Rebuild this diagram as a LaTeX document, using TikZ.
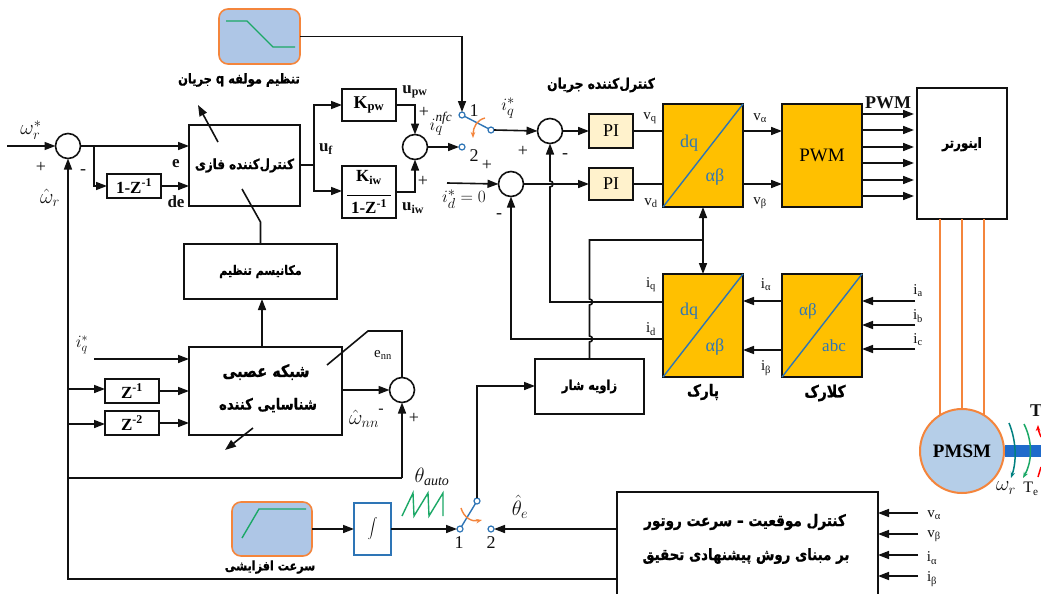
\documentclass[tikz,border=0pt]{standalone}
\usepackage{fontspec}
\usetikzlibrary{arrows.meta}
\setmainfont{Liberation Serif}
\newfontfamily\arabicfont[Script=Arabic,FakeStretch=0.85,BoldFeatures={FakeBold=1}]{DejaVu Sans}
\TeXXeTstate=1
\definecolor{gold}{HTML}{FFC000}
\definecolor{linkblue}{HTML}{2E75B6}
\definecolor{edgeorange}{HTML}{F4853C}
\definecolor{panelblue}{HTML}{AEC6E6}
\definecolor{motorblue}{HTML}{B5CEE8}
\definecolor{cream}{HTML}{FFF2CC}
\definecolor{sawgreen}{HTML}{1BA866}
\definecolor{shaftblue}{HTML}{1F6BCB}
\definecolor{ink}{HTML}{111111}
\newcommand\sz[1]{\fontsize{#1}{#1}\selectfont}
\newcommand\fa[1]{{\arabicfont\bfseries\beginR #1\endR}}
\newcommand\blk[7]{%
  \pgfmathsetmacro\bw{#4-#2}\pgfmathsetmacro\bh{#5-#3}%
  \pgfmathsetmacro\bx{(#2+#4)/2}\pgfmathsetmacro\by{(#3+#5)/2}%
  \node[box,#6,minimum width=\bw pt,minimum height=\bh pt] (#1) at (\bx,\by) {#7};}
\tikzset{
  box/.style={draw=ink,line width=1.6pt,fill=white,inner sep=0pt,outer sep=0pt,align=center},
  goldbox/.style={fill=gold},
  panel/.style={draw=edgeorange,fill=panelblue,line width=1.6pt,rounded corners=9pt},
  sumnode/.style={circle,draw=ink,line width=1.6pt,fill=white,minimum size=25pt,inner sep=0pt,outer sep=0pt},
  wire/.style={draw=ink,line width=1.6pt},
  arr/.style={wire,-{Triangle[length=11pt,width=8pt]}},
  arrboth/.style={wire,{Triangle[length=11pt,width=8pt]}-{Triangle[length=11pt,width=8pt]}},
  diag/.style={draw=linkblue,line width=1.4pt},
  contact/.style={circle,draw=linkblue,fill=white,line width=1.2pt,minimum size=6pt,inner sep=0pt,outer sep=0pt},
  lbl/.style={inner sep=0pt,text=ink,font=\sz{15}},
  blabel/.style={inner sep=0pt,text=ink,font=\sz{17}\bfseries},
  falabel/.style={inner sep=0pt,text=black,font=\sz{14},align=center},
  inlink/.style={inner sep=0pt,text=linkblue,font=\sz{18}},
  orangeline/.style={draw=edgeorange,line width=2pt},
  greenline/.style={draw=sawgreen,line width=1.4pt},
}
\begin{document}
\begin{tikzpicture}[x=1pt,y=-1pt]
\useasboundingbox (0,0) rectangle (1041,594);
\clip (0,0) rectangle (1041,594);
\fill[white] (0,0) rectangle (1041,594);

% ---------- blocks
\blk{gainq}{219}{9}{300}{64}{panel}{}
\blk{fuzzy}{189}{125}{300}{206}{}{\fa{\sz{14}کنترل‌کننده فازی}}
\blk{dz}{107}{174}{161}{198}{font=\sz{17}\bfseries}{1-Z\textsuperscript{-1}}
\blk{mech}{184}{244}{337}{299}{}{\fa{\sz{13}مکانیسم تنظیم}}
\blk{nn}{189}{347}{342}{435}{}{}
\blk{zone}{105}{379}{159}{403}{font=\sz{17}\bfseries}{Z\textsuperscript{-1}}
\blk{ztwo}{105}{411}{159}{435}{font=\sz{17}\bfseries}{Z\textsuperscript{-2}}
\blk{kpw}{342}{89}{396}{121}{font=\sz{18}\bfseries}{K\textsubscript{pw}}
\blk{kiw}{342}{166}{396}{218}{font=\sz{17}\bfseries}{K\textsubscript{iw}\\[-3pt]\rule{44pt}{0.9pt}\\[1pt]1-Z\textsuperscript{-1}}
\blk{pione}{589}{114}{633}{148}{fill=cream,font=\sz{18}}{PI}
\blk{pitwo}{589}{168}{633}{200}{fill=cream,font=\sz{18}}{PI}
\blk{dqtop}{663}{104}{743}{207}{goldbox}{}
\blk{pwm}{782}{104}{862}{207}{goldbox,font=\sz{19}}{PWM}
\blk{inv}{917}{88}{1007}{219}{}{\raisebox{22pt}{\fa{\sz{14}اینورتر}}}
\blk{park}{663}{274}{743}{377}{goldbox}{}
\blk{clarke}{782}{274}{862}{377}{goldbox}{}
\blk{angle}{535}{359}{644}{414}{}{\fa{\sz{13.5}زاویه شار}}
\blk{ramp}{232}{502}{312}{556}{panel}{}
\blk{integ}{354}{503}{391}{555}{draw=linkblue,font=\sz{17}}{$\displaystyle\int$}
\blk{pos}{617}{492}{878}{600}{}{}

\node[sumnode] (sumA) at (68,146) {};
\node[sumnode] (sumB) at (415,147) {};
\node[sumnode] (sumC) at (550,131) {};
\node[sumnode] (sumD) at (511,184) {};
\node[sumnode] (sumE) at (402,390) {};

\node[contact] (swa) at (462,115) {};
\node[contact] (swb) at (462,147) {};
\node[contact] (swc) at (491,130) {};
\node[contact] (swd) at (460,529) {};
\node[contact] (swe) at (491,529) {};
\node[contact] (swf) at (477,501) {};

% ---------- free ends and corners
\coordinate (inW) at (7,146);
\coordinate (brE) at (94,146);
\coordinate (brD) at (94,186);
\coordinate (iqn) at (94,359);
\coordinate (fbL) at (68,579);
\coordinate (fbA) at (68,478);
\coordinate (fbB) at (402,478);
\coordinate (fzC) at (314,165);
\coordinate (idn) at (447,183);

% ---------- speed loop
\draw[arr] (inW) -- (sumA.west);
\draw[arr] (sumA.east) -- (fuzzy.west |- sumA.east);
\draw[arr] (brE) -- (brD) -- (dz.west);
\draw[arr] (dz.east) -- (fuzzy.west |- dz.east);
\draw[arr] (pos.west |- fbL) -- (fbL) -- (sumA.south);
\draw[wire] (fbA) -- (fbB);
\draw[arr] (fbB) -- (sumE.south);
\draw[arr] (68,389) -- (zone.west |- 68,389);
\draw[arr] (68,424) -- (ztwo.west |- 68,424);
\draw[arr] (zone.east) -- (nn.west |- zone.east);
\draw[arr] (ztwo.east) -- (nn.west |- ztwo.east);
\draw[arr] (iqn) -- (nn.west |- iqn);
\draw[arr] (nn.east |- sumE.west) -- (sumE.west);
\draw[wire] (327,365) -- (368,331) -- (402,331) -- (sumE.north);
\draw[arr] (nn.north -| 262,0) -- (mech.south -| 262,0);
\draw[wire] (mech.north) -- (260.5,222) -- (242,189);
\draw[arr] (218,142) -- (198,105);
\draw[arr] (253,428) -- (225,450);

% ---------- fuzzy outputs
\draw[wire] (fuzzy.east |- fzC) -- (fzC);
\draw[arr] (fzC) -- (314,105) -- (kpw.west |- 314,105);
\draw[arr] (fzC) -- (314,191) -- (kiw.west |- 314,191);
\draw[arr] (kpw.east) -- (sumB.north |- kpw.east) -- (sumB.north);
\draw[arr] (kiw.east) -- (sumB.south |- kiw.east) -- (sumB.south);
\draw[arr] (sumB.east) -- (swb.west);
\draw[arr] (gainq.east) -- (swa.north |- gainq.east) -- (swa.north);

% ---------- current loop
\draw[diag] (swa) -- (swc);
\draw[arr] (swc.east) -- (sumC.west);
\draw[arr] (idn) -- (sumD.west);
\draw[arr] (sumC.east) -- (pione.west);
\draw[arr] (sumD.east) -- (pitwo.west);
\draw[wire] (pione.east) -- (dqtop.west |- pione.east);
\draw[wire] (pitwo.east) -- (dqtop.west |- pitwo.east);
\draw[arr] (743,131) -- (pwm.west |- 743,131);
\draw[arr] (743,184) -- (pwm.west |- 743,184);
\foreach \yy in {114,130,147,163,180,196}
  \draw[arr] (pwm.east |- 0,\yy) -- (914,\yy);
\draw[arrboth] (dqtop.south) -- (park.north);
\draw[arr] (park.west |- 0,302) -- (550,302) -- (550,187) arc[start angle=-90,end angle=90,radius=3pt] -- (sumC.south);
\draw[arr] (park.west |- 0,339) -- (511,339) -- (sumD.south);
\draw[wire] (angle.north) -- (589.5,342) arc[start angle=-90,end angle=90,radius=3pt] -- (589.5,305) arc[start angle=-90,end angle=90,radius=3pt] -- (589.5,240) -- (park.north |- 0,240);
\draw[arr] (clarke.west |- 0,301) -- (park.east |- 0,301);
\draw[arr] (clarke.west |- 0,350) -- (park.east |- 0,350);
\foreach \yy in {301,325,349}
  \draw[arr] (915,\yy) -- (clarke.east |- 0,\yy);

% ---------- inner diagonals
\draw[diag] (dqtop.south west) -- (dqtop.north east);
\draw[diag] (park.south west) -- (park.north east);
\draw[diag] (clarke.south west) -- (clarke.north east);

% ---------- motor
\foreach \xx in {940,962,984}
  \draw[orangeline] (\xx,219) -- (\xx,422);
\node[circle,draw=edgeorange,fill=motorblue,line width=2pt,minimum size=84pt,inner sep=0pt,font=\sz{19}\bfseries] (motor) at (962,451) {PMSM};
\fill[shaftblue] (motor.east |- 0,445) rectangle (1041,457);
\draw[draw=teal,line width=1.5pt,-{Stealth[length=6pt]}] (1009,423) .. controls (1016,440) and (1017,460) .. (1011,478);
\draw[draw=sawgreen,line width=1.5pt,-{Stealth[length=6pt]}] (1024,424) .. controls (1032,440) and (1033,460) .. (1023,478);
\draw[draw=red,line width=1.5pt,{Stealth[length=6pt]}-] (1038,425) .. controls (1038,430) and (1040,434) .. (1041,437);
\draw[draw=red,line width=1.5pt] (1041,467) -- (1038,477);

% ---------- position / rotor speed block feed
\draw[arr] (pos.west |- 0,529) -- (swe.east);
\draw[arr] (integ.east) -- (swd.west);
\draw[arr] (ramp.east) -- (integ.west);
\draw[diag] (swd) -- (swf);
\draw[arr] (swf.north) -- (477,386) -- (angle.west |- 477,386);
\foreach \yy in {513,534,555,576}
  \draw[arr] (918,\yy) -- (pos.east |- 0,\yy);

% ---------- decorations in panels and switches
\draw[greenline] (226,21) -- (247,21) -- (273,47) -- (295,47);
\draw[greenline] (242,538) -- (259,509) -- (306,509);
\draw[greenline] (402,516) -- (413,493) -- (414,516) -- (428,493) -- (429,516) -- (443,493) -- (443,516);
\draw[draw=edgeorange,line width=1.4pt,-{Stealth[length=6pt]}] (485,118) .. controls (477,120) and (473,127) .. (473,138);
\draw[draw=edgeorange,line width=1.4pt,-{Stealth[length=6pt]}] (461,508) .. controls (464,518) and (472,522) .. (482,520);

% ---------- math and plain labels
\node[lbl,font=\sz{22}] (lwr) at (31,130) {$\omega_r^{*}$};
\node[lbl,font=\sz{22}] (lwh) at (50,198) {$\hat{\omega}_r$};
\node[lbl,font=\sz{18}] (lpa) at (41,167) {+};
\node[lbl,font=\sz{18}] (lma) at (83,172) {-};
\node[blabel] (le) at (176,164) {e};
\node[blabel] (lde) at (176,202) {de};
\node[blabel] (luf) at (326,149) {u\textsubscript{f}};
\node[blabel] (lup) at (415,92) {u\textsubscript{pw}};
\node[blabel] (luw) at (413,208) {u\textsubscript{iw}};
\node[lbl,font=\sz{18}] (lpb) at (424,112) {+};
\node[lbl,font=\sz{18}] (lpc) at (423,181) {+};
\node[lbl,font=\sz{19}] (linfc) at (441,124) {$i_q^{\mathit{nfc}}$};
\node[lbl,font=\sz{18}] (lone) at (474,111) {1};
\node[lbl,font=\sz{18}] (ltwo) at (474,156) {2};
\node[lbl,font=\sz{18}] (lpd) at (487,165) {+};
\node[lbl,font=\sz{19}] (liq) at (508,108) {$i_q^{*}$};
\node[lbl,font=\sz{18}] (lpe) at (523,151) {+};
\node[lbl,font=\sz{18}] (lme) at (565,156) {-};
\node[lbl,font=\sz{19}] (lid) at (464,199) {$i_d^{*}=0$};
\node[lbl,font=\sz{18}] (lmd) at (499,216) {-};
\node[lbl] (lvq) at (650,118) {v\textsubscript{q}};
\node[lbl] (lvd) at (651,203) {v\textsubscript{d}};
\node[lbl] (lva) at (760,118) {v\textsubscript{α}};
\node[lbl] (lvb) at (760,203) {v\textsubscript{β}};
\node[lbl,font=\sz{18}\bfseries] (lpwm) at (888,103) {PWM};
\node[lbl] (liqa) at (651,285) {i\textsubscript{q}};
\node[lbl] (lida) at (651,329) {i\textsubscript{d}};
\node[lbl] (lia) at (766,285) {i\textsubscript{α}};
\node[lbl] (lib) at (766,368) {i\textsubscript{β}};
\node[lbl] (lca) at (918,291) {i\textsubscript{a}};
\node[lbl] (lcb) at (918,316) {i\textsubscript{b}};
\node[lbl] (lcc) at (918,340) {i\textsubscript{c}};
\node[lbl,font=\sz{17}] (liqn) at (82,345) {$i_q^{*}$};
\node[lbl] (lenn) at (383,355) {e\textsubscript{nn}};
\node[lbl,font=\sz{20}] (lwnn) at (364,419) {$\hat{\omega}_{nn}$};
\node[lbl,font=\sz{16}] (lmn) at (381,411) {-};
\node[lbl,font=\sz{18}] (lpn) at (414,418) {+};
\node[lbl,font=\sz{20}] (lth) at (432,477) {$\theta_{\mathit{auto}}$};
\node[lbl,font=\sz{18}] (lsone) at (459,543) {1};
\node[lbl,font=\sz{18}] (lstwo) at (491,543) {2};
\node[lbl,font=\sz{20}] (lthe) at (520,507) {$\hat{\theta}_{e}$};
\node[lbl] (lpva) at (934,515) {v\textsubscript{α}};
\node[lbl] (lpvb) at (934,536) {v\textsubscript{β}};
\node[lbl] (lpia) at (932,558) {i\textsubscript{α}};
\node[lbl] (lpib) at (932,579) {i\textsubscript{β}};
\node[lbl,font=\sz{22}] (lmw) at (1006,488) {$\omega_r$};
\node[lbl,font=\sz{16}] (lmt) at (1031,489) {T\textsubscript{e}};
\node[lbl,font=\sz{18}\bfseries] (lmT) at (1036,411) {T};

\node[inlink] (tdqa) at (689,143) {dq};
\node[inlink] (taba) at (715,177) {αβ};
\node[inlink] (tdqb) at (689,311) {dq};
\node[inlink] (tabb) at (715,347) {αβ};
\node[inlink,font=\sz{17}] (tabc) at (808,311) {αβ};
\node[inlink,font=\sz{17}] (tabd) at (834,346) {abc};

% ---------- Persian labels
\node[falabel] (fq) at (239,80) {\fa{\sz{13.5}تنظیم مولفه q جریان}};
\node[falabel] (fcur) at (601,85) {\fa{\sz{14.5}کنترل‌کننده جریان}};
\node[falabel] (fnna) at (266,372) {\fa{\sz{17}شبکه عصبی}};
\node[falabel] (fnnb) at (268,405) {\fa{\sz{15.5}شناسایی کننده}};
\node[falabel] (framp) at (270,567) {\fa{\sz{13.2}سرعت افزایشی}};
\node[falabel] (fpark) at (703,392) {\fa{\sz{16}پارک}};
\node[falabel] (fclk) at (825,393) {\fa{\sz{16.5}کلارک}};
\node[falabel] (fposa) at (745,522) {\fa{\sz{16}کنترل موقعیت  – سرعت روتور}};
\node[falabel] (fposb) at (746,556) {\fa{\sz{15.7}بر مبنای روش پیشنهادی تحقیق}};
\end{tikzpicture}
\end{document}
